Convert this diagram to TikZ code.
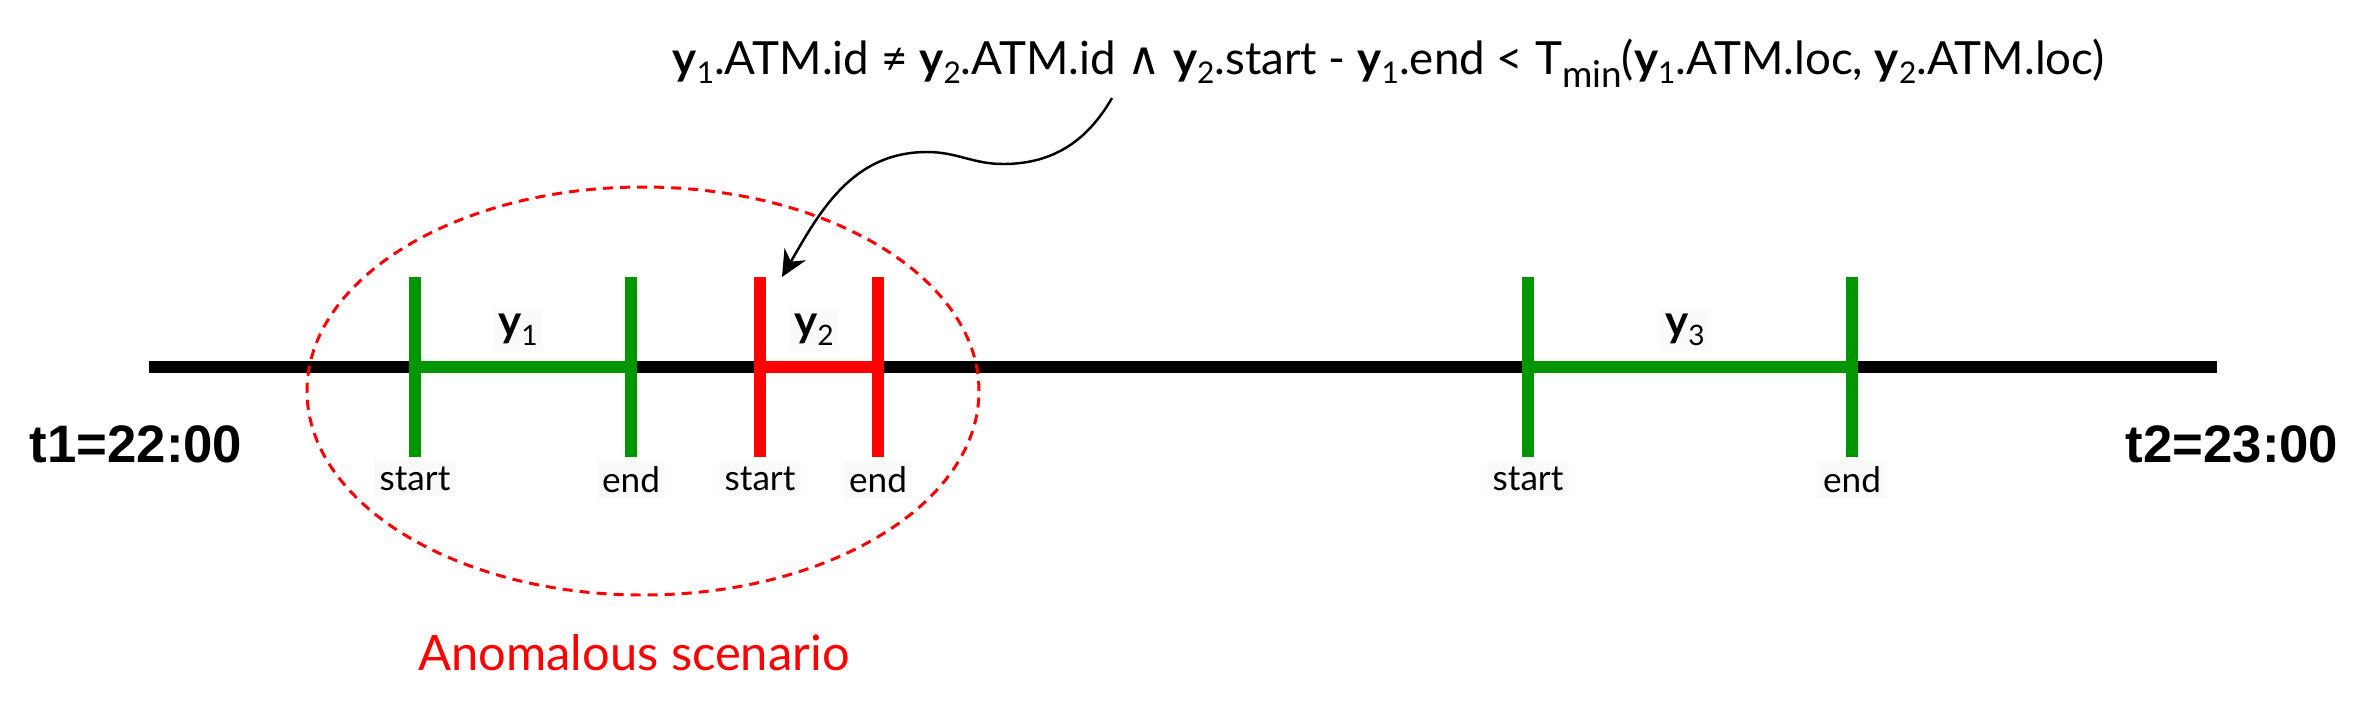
\documentclass[tikz,border=0pt]{standalone}
\usepackage{fontspec}
\setmainfont{Lato}
\newfontfamily\timefont{Liberation Sans}
\newfontfamily\symbolfont{DejaVu Sans}
\usetikzlibrary{calc}
\usetikzlibrary{arrows.meta}
\definecolor{spangreen}{RGB}{0,150,0}
\tikzset{
	% line styles for the time axis and the intervals
	axis line/.style={draw=black,line width=3.4pt},
	span line/.style={line width=3.4pt},
	tick line/.style={line width=3.4pt},
	% labels on the axis
	tick label/.style={inner sep=1.5pt,fill=black!2,yshift=-1pt,font=\fontsize{10}{12}\selectfont},
	span label/.style={inner sep=1.5pt,fill=black!2,font=\fontsize{12.5}{14}\selectfont},
	time label/.style={font=\timefont\bfseries\fontsize{15}{18}\selectfont},
	scenario line/.style={draw=red,line width=0.85pt,dash pattern=on 2.85pt off 2pt}
}
\begin{document}
\begin{tikzpicture}[x=0.01cm,y=0.01cm]
			\useasboundingbox (0,0) rectangle (2367,726);
			% macro for a bold y with its index
			\newcommand{\yvar}[2][8.5]{\textbf{y}\raisebox{-0.2em}{\fontsize{#1}{#1}\selectfont #2}}
			% macro for one interval: colour, start, end, name, index
			\newcommand{\timespan}[5]{
				\coordinate(#4-s-top)at(#2,449); \coordinate(#4-s-bot)at(#2,269);
				\coordinate(#4-e-top)at(#3,449); \coordinate(#4-e-bot)at(#3,269);
				\coordinate(#4-s)at(#2,359); \coordinate(#4-e)at(#3,359);
				\draw[span line,#1](#4-s)--(#4-e);
				\draw[tick line,#1](#4-s-top)--(#4-s-bot);
				\draw[tick line,#1](#4-e-top)--(#4-e-bot);
				\node(#4-start)[tick label,below]at(#4-s-bot){start};
				\node(#4-end)[tick label,below]at(#4-e-bot){end};
				\node(#4)[span label]at($(#4-s)!0.5!(#4-e)+(-5,37)$){\yvar[8]{#5}};
			}
			
			% time axis
			\coordinate(t-left)at(149,359);
			\coordinate(t-right)at(2217,359);
			\draw[axis line](t-left)--(t-right);
			\node(t1)[time label]at(136,282){t1=22:00};
			\node(t2)[time label]at(2232,282){t2=23:00};
			
			% the three intervals
			\timespan{spangreen}{415}{631}{y1}{1}
			\timespan{red}{760}{878}{y2}{2}
			\timespan{spangreen}{1528}{1852}{y3}{3}
			
			% anomalous region
			\draw[scenario line](643,335) ellipse[x radius=336,y radius=204];
			\node(anomaly)[red,font=\fontsize{13.9}{16}\selectfont]at(634,73){Anomalous scenario};
			
			% condition and its arrow
			\node(condition)[anchor=base west,inner sep=0,font=\fontsize{13}{15}\selectfont]at(672,652)
			{\yvar{1}.ATM.id ≠ \yvar{2}.ATM.id {\symbolfont ∧} \yvar{2}.start - \yvar{1}.end < T\raisebox{-0.3em}{\fontsize{10.5}{10.5}\selectfont min}(\yvar{1}.ATM.loc, \yvar{2}.ATM.loc)};
			\coordinate(cond-foot)at(1112,628);
			\coordinate(y2-tip)at($(y2-s-top)+(22,0)$);
			\draw[line width=0.7pt,-{Stealth[length=7.5pt,width=7pt]}](cond-foot)
				to[out=-120,in=0](1003,562) to[out=180,in=0](927,574) to[out=180,in=60](y2-tip);
		\end{tikzpicture}
\end{document}
